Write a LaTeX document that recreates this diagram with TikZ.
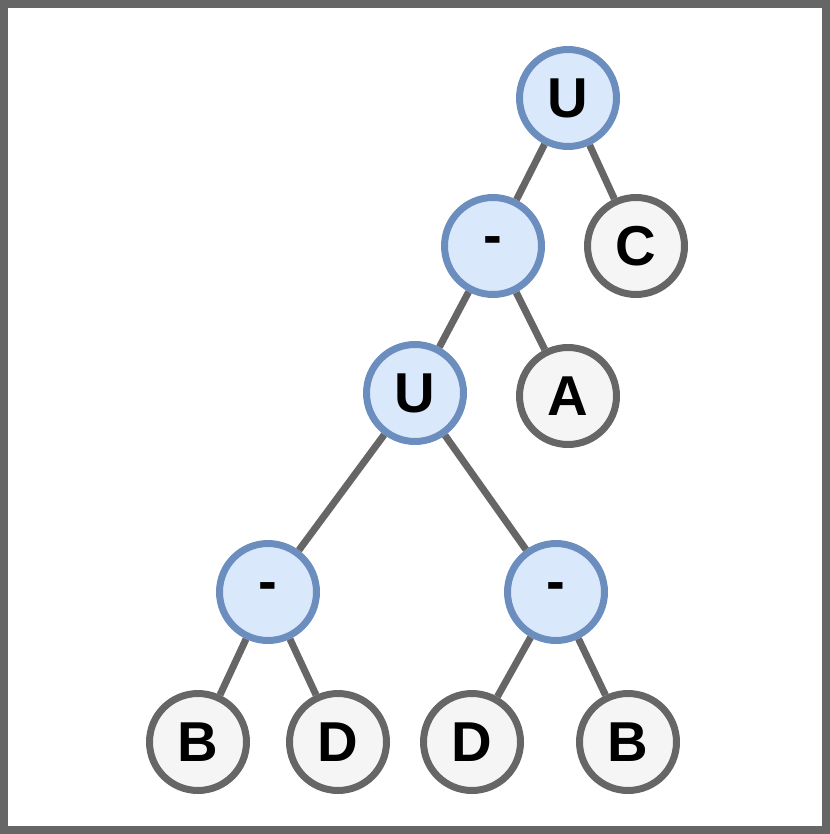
\documentclass[tikz,border=0pt]{standalone}
\usepackage{fontspec}
\setmainfont{Liberation Sans}
\definecolor{opfill}{HTML}{DAE8FC}
\definecolor{opdraw}{HTML}{6C8EBF}
\definecolor{leaffill}{HTML}{F5F5F5}
\definecolor{leafdraw}{HTML}{666666}
\tikzset{
	opnode/.style={circle, draw=opdraw, fill=opfill, line width=0.14cm, minimum size=1.94cm, inner sep=0pt, font=\fontsize{32}{36}\selectfont\bfseries},
	leafnode/.style={circle, draw=leafdraw, fill=leaffill, line width=0.14cm, minimum size=1.94cm, inner sep=0pt, font=\fontsize{32}{36}\selectfont\bfseries},
	edge/.style={draw=leafdraw, line width=0.14cm}
}
\begin{document}
\begin{tikzpicture}[x=0.02cm, y=-0.02cm]
	\useasboundingbox (0,0) rectangle (830,834);
	\draw [draw=leafdraw, line width=0.16cm] (4,4) rectangle (826,830);
	% operators
	\node [opnode] (u1) at (568,98) {U};
	\node [opnode] (m1) at (493,246) {-};
	\node [opnode] (u2) at (415,393) {U};
	\node [opnode] (m2) at (268,592) {-};
	\node [opnode] (m3) at (556,592) {-};
	% leaves
	\node [leafnode] (c) at (636,246) {C};
	\node [leafnode] (a) at (568,396) {A};
	\node [leafnode] (b1) at (198,742) {B};
	\node [leafnode] (d1) at (338,742) {D};
	\node [leafnode] (d2) at (472,742) {D};
	\node [leafnode] (b2) at (628,742) {B};
	% edges
	\draw [edge] (u1) -- (m1) (u1) -- (c);
	\draw [edge] (m1) -- (u2) (m1) -- (a);
	\draw [edge] (u2) -- (m2) (u2) -- (m3);
	\draw [edge] (m2) -- (b1) (m2) -- (d1);
	\draw [edge] (m3) -- (d2) (m3) -- (b2);
\end{tikzpicture}
\end{document}
